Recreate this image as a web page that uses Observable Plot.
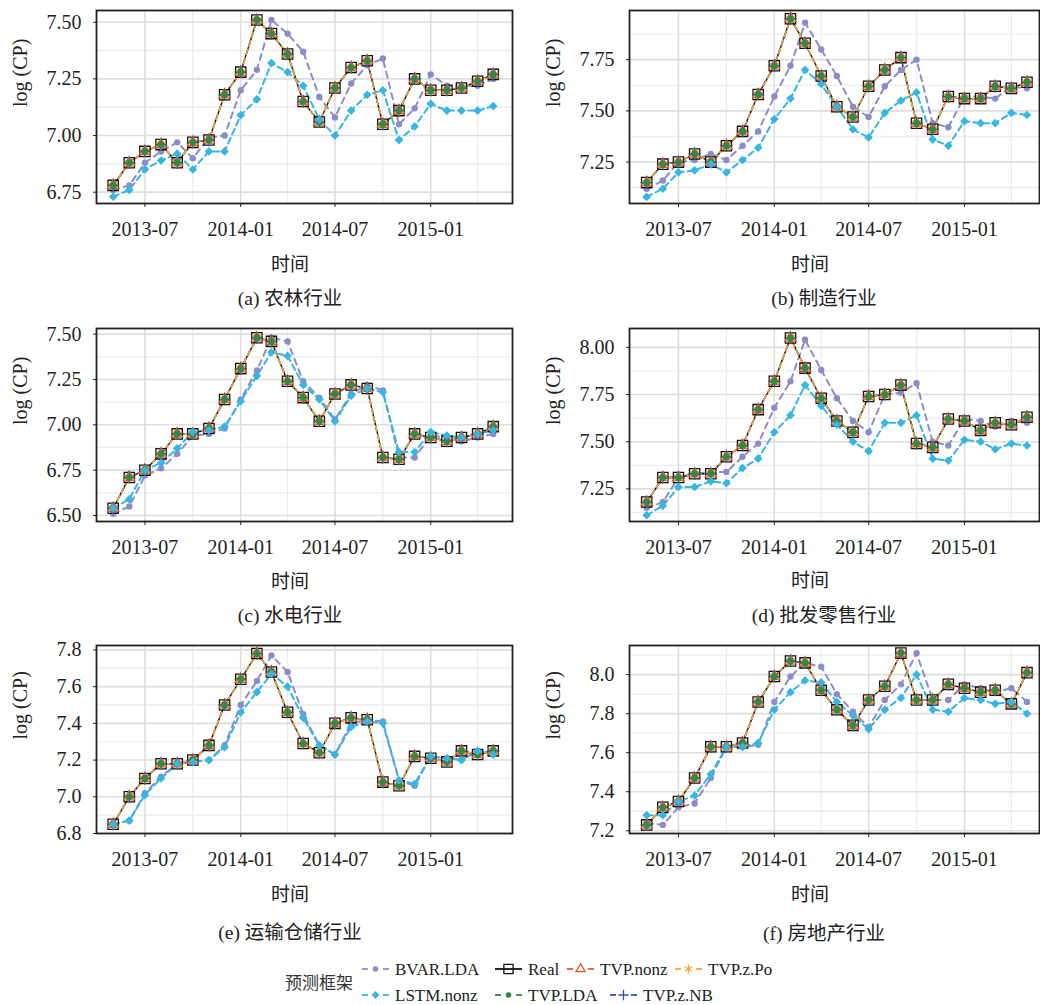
<!DOCTYPE html>
<html>
<head>
<meta charset="utf-8">
<script src="https://cdn.jsdelivr.net/npm/d3@7"></script>
<script src="https://cdn.jsdelivr.net/npm/@observablehq/plot@0.6"></script>
<style>
  body { margin: 0; background: #fff; }
  #fig { position: relative; width: 1040px; height: 1005px; overflow: hidden;
         font-family: "Liberation Serif", "Noto Sans CJK SC", serif; color: #222; }
  .panel { position: absolute; }
  .lbl { position: absolute; transform: translate(-50%, -50%); white-space: nowrap; font-size: 19px; }
  #legend { position: absolute; left: 0; top: 950px; }
</style>
</head>
<body>
<div id="fig"></div>
<script>
// Monthly observations, May 2013 – May 2015
const months = ["2013-05","2013-06","2013-07","2013-08","2013-09","2013-10","2013-11","2013-12",
  "2014-01","2014-02","2014-03","2014-04","2014-05","2014-06","2014-07","2014-08","2014-09","2014-10",
  "2014-11","2014-12","2015-01","2015-02","2015-03","2015-04","2015-05"];
const xTickMonths = ["2013-07","2014-01","2014-07","2015-01"];
const xMinorMonths = ["2013-10","2014-04","2014-10","2015-04"];

const panelTitles = ["(a) 农林行业","(b) 制造行业","(c) 水电行业","(d) 批发零售行业","(e) 运输仓储行业","(f) 房地产行业"];
const xTitle = "时间";
const yTitle = "log (CP)";
const legendTitle = "预测框架";
const seriesNames = ["BVAR.LDA","Real","TVP.nonz","TVP.z.Po","LSTM.nonz","TVP.LDA","TVP.z.NB"];

// (a) 农林行业
const realA = [6.78,6.88,6.93,6.96,6.88,6.97,6.98,7.18,7.28,7.51,7.45,7.36,7.15,7.06,7.21,7.30,7.33,7.05,7.11,7.25,7.20,7.20,7.21,7.24,7.27];
const bvarA = [6.76,6.78,6.88,6.93,6.97,6.90,6.99,7.00,7.20,7.29,7.51,7.45,7.37,7.17,7.08,7.23,7.31,7.34,7.05,7.12,7.27,7.22,7.22,7.22,7.25];
const lstmA = [6.73,6.76,6.85,6.89,6.92,6.85,6.93,6.93,7.09,7.16,7.32,7.28,7.22,7.07,7.00,7.11,7.18,7.20,6.98,7.04,7.14,7.11,7.11,7.11,7.13];
// (b) 制造行业
const realB = [7.15,7.24,7.25,7.29,7.25,7.33,7.40,7.58,7.72,7.95,7.83,7.67,7.52,7.47,7.62,7.70,7.76,7.44,7.41,7.57,7.56,7.56,7.62,7.61,7.64];
const bvarB = [7.12,7.16,7.25,7.26,7.29,7.26,7.33,7.40,7.57,7.72,7.93,7.80,7.67,7.52,7.47,7.62,7.70,7.75,7.44,7.42,7.57,7.57,7.56,7.62,7.61];
const lstmB = [7.08,7.12,7.20,7.21,7.24,7.20,7.26,7.32,7.46,7.56,7.70,7.63,7.52,7.41,7.37,7.49,7.55,7.59,7.36,7.33,7.45,7.44,7.44,7.49,7.48];
// (c) 水电行业
const realC = [6.54,6.71,6.75,6.84,6.95,6.95,6.98,7.14,7.31,7.48,7.46,7.24,7.15,7.02,7.17,7.22,7.20,6.82,6.81,6.95,6.93,6.91,6.93,6.95,6.99];
const bvarC = [6.51,6.55,6.72,6.76,6.84,6.94,6.95,6.98,7.14,7.30,7.48,7.46,7.24,7.15,7.03,7.17,7.22,7.19,6.82,6.82,6.94,6.93,6.91,6.93,6.95];
const lstmC = [6.54,6.59,6.75,6.79,6.87,6.96,6.97,6.99,7.13,7.27,7.40,7.38,7.22,7.14,7.02,7.16,7.20,7.18,6.85,6.85,6.96,6.94,6.93,6.95,6.97];
// (d) 批发零售行业
const realD = [7.18,7.31,7.31,7.33,7.33,7.42,7.48,7.67,7.82,8.05,7.89,7.73,7.61,7.55,7.74,7.75,7.80,7.49,7.47,7.62,7.61,7.56,7.60,7.59,7.63];
const bvarD = [7.15,7.18,7.31,7.33,7.34,7.34,7.42,7.49,7.68,7.82,8.04,7.88,7.73,7.61,7.55,7.75,7.76,7.81,7.50,7.48,7.62,7.61,7.58,7.61,7.60];
const lstmD = [7.11,7.16,7.26,7.26,7.29,7.28,7.36,7.41,7.55,7.64,7.80,7.69,7.59,7.50,7.45,7.60,7.60,7.64,7.41,7.40,7.51,7.50,7.46,7.49,7.48];
// (e) 运输仓储行业
const realE = [6.85,7.00,7.10,7.18,7.18,7.20,7.28,7.50,7.64,7.78,7.68,7.46,7.29,7.24,7.40,7.43,7.42,7.08,7.06,7.22,7.21,7.19,7.25,7.23,7.25];
const bvarE = [6.85,6.87,7.02,7.11,7.18,7.19,7.20,7.28,7.50,7.63,7.77,7.68,7.45,7.28,7.23,7.40,7.42,7.41,7.09,7.06,7.22,7.21,7.20,7.25,7.24];
const lstmE = [6.85,6.87,7.01,7.10,7.18,7.19,7.20,7.27,7.46,7.57,7.67,7.60,7.43,7.28,7.23,7.38,7.41,7.40,7.09,7.07,7.22,7.21,7.20,7.25,7.23];
// (f) 房地产行业
const realF = [7.23,7.32,7.35,7.47,7.63,7.63,7.65,7.86,7.99,8.07,8.06,7.92,7.82,7.74,7.87,7.94,8.11,7.87,7.87,7.95,7.93,7.91,7.92,7.85,8.01];
const bvarF = [7.24,7.23,7.32,7.34,7.47,7.63,7.63,7.64,7.86,7.99,8.06,8.04,7.90,7.81,7.73,7.87,7.95,8.11,7.87,7.87,7.95,7.93,7.91,7.93,7.86];
const lstmF = [7.28,7.28,7.35,7.38,7.49,7.63,7.63,7.65,7.82,7.91,7.97,7.96,7.86,7.79,7.72,7.82,7.88,8.00,7.82,7.81,7.88,7.87,7.85,7.86,7.80];

// y-axis ticks (labelled) and the half-step grid lines between them
const yTicksA = [6.75,7.00,7.25,7.50], yMinorA = [6.875,7.125,7.375];
const yTicksB = [7.25,7.50,7.75],      yMinorB = [7.125,7.375,7.625,7.875];
const yTicksC = [6.50,6.75,7.00,7.25,7.50], yMinorC = [6.625,6.875,7.125,7.375];
const yTicksD = [7.25,7.50,7.75,8.00], yMinorD = [7.125,7.375,7.625,7.875];
const yTicksE = [6.8,7.0,7.2,7.4,7.6,7.8], yMinorE = [6.9,7.1,7.3,7.5,7.7];
const yTicksF = [7.2,7.4,7.6,7.8,8.0], yMinorF = [7.3,7.5,7.7,7.9,8.1];

// The four TVP forecasts track the observed series to two decimals, so they share its values.
const panelData = [
  {real: realA, bvar: bvarA, lstm: lstmA, yDomain: [6.70, 7.552], yTicks: yTicksA, yMinor: yMinorA, fmt: ".2f"},
  {real: realB, bvar: bvarB, lstm: lstmB, yDomain: [7.048, 7.99], yTicks: yTicksB, yMinor: yMinorB, fmt: ".2f"},
  {real: realC, bvar: bvarC, lstm: lstmC, yDomain: [6.467, 7.531], yTicks: yTicksC, yMinor: yMinorC, fmt: ".2f"},
  {real: realD, bvar: bvarD, lstm: lstmD, yDomain: [7.077, 8.10], yTicks: yTicksD, yMinor: yMinorD, fmt: ".2f"},
  {real: realE, bvar: bvarE, lstm: lstmE, yDomain: [6.80, 7.824], yTicks: yTicksE, yMinor: yMinorE, fmt: ".1f"},
  {real: realF, bvar: bvarF, lstm: lstmF, yDomain: [7.186, 8.149], yTicks: yTicksF, yMinor: yMinorF, fmt: ".1f"}
];

// ---- layout ----
const panelLayout = [
  {left: 0,   top: 0,   col: 0, plotH: 193, xLbl: [290, 262], cap: [290, 296]},
  {left: 520, top: 0,   col: 1, plotH: 193, xLbl: [810, 262], cap: [824, 296]},
  {left: 0,   top: 318, col: 0, plotH: 193, xLbl: [290, 579], cap: [290, 613]},
  {left: 520, top: 318, col: 1, plotH: 193, xLbl: [810, 578], cap: [824, 613]},
  {left: 0,   top: 635, col: 0, plotH: 188, xLbl: [290, 892], cap: [290, 930]},
  {left: 520, top: 635, col: 1, plotH: 188, xLbl: [810, 892], cap: [824, 931]}
];
const colLayout = [
  {marginLeft: 96,  marginRight: 8, xDomain: ["2013-03-30", "2015-06-07"]},
  {marginLeft: 109, marginRight: 1, xDomain: ["2013-03-29", "2015-05-25"]}
];

const styles = {
  "BVAR.LDA":  {color: "#8d8ccb", dash: "6,5", width: 2,   symbol: "circle",    r: 3.2, filled: true},
  "LSTM.nonz": {color: "#35b6e3", dash: "6,4", width: 2,   symbol: "diamond2",  r: 3.9, filled: true},
  "Real":      {color: "#111111", dash: null,  width: 1.4, symbol: "square",    r: 5.8, filled: false},
  "TVP.nonz":  {color: "#e4572e", dash: "5,4", width: 1.4, symbol: "triangle2", r: 5.2, filled: false},
  "TVP.z.Po":  {color: "#f5a43a", dash: "5,4", width: 1.6, symbol: "asterisk",  r: 5.0, filled: false},
  "TVP.LDA":   {color: "#2e8b3f", dash: "5,4", width: 1.4, symbol: "circle",    r: 3.4, filled: true},
  "TVP.z.NB":  {color: "#3356a8", dash: "5,4", width: 1.4, symbol: "plus",      r: 4.0, filled: false}
};
const lineOrder = ["BVAR.LDA","LSTM.nonz","Real","TVP.nonz","TVP.LDA","TVP.z.NB","TVP.z.Po"];
const dotOrder  = ["BVAR.LDA","Real","TVP.nonz","TVP.z.Po","TVP.z.NB","TVP.LDA","LSTM.nonz"];

const parseMonth = d3.utcParse("%Y-%m");
const parseDay = d3.utcParse("%Y-%m-%d");
const dates = months.map(parseMonth);
const fontStack = "'Liberation Serif', 'Noto Sans CJK SC', serif";

function rowsOf(values) {
  return dates.map((date, i) => ({date, value: values[i]}));
}

function makePanel(pd, pl) {
  const cl = colLayout[pl.col];
  const seriesValues = {
    "BVAR.LDA": pd.bvar, "LSTM.nonz": pd.lstm, "Real": pd.real,
    "TVP.nonz": pd.real, "TVP.z.Po": pd.real, "TVP.LDA": pd.real, "TVP.z.NB": pd.real
  };
  const lines = lineOrder.map(name => {
    const s = styles[name];
    return Plot.line(rowsOf(seriesValues[name]), {
      x: "date", y: "value", stroke: s.color, strokeWidth: s.width,
      strokeDasharray: s.dash || undefined, curve: "linear"
    });
  });
  const dots = dotOrder.map(name => {
    const s = styles[name];
    return Plot.dot(rowsOf(seriesValues[name]), {
      x: "date", y: "value", symbol: s.symbol, r: s.r,
      fill: s.filled ? s.color : "none",
      stroke: s.filled ? "none" : s.color,
      strokeWidth: s.filled ? 0 : 1.3
    });
  });
  return Plot.plot({
    width: 520,
    height: pl.plotH + 50,
    marginLeft: cl.marginLeft,
    marginRight: cl.marginRight,
    marginTop: 10,
    marginBottom: 40,
    style: {fontFamily: fontStack, fontSize: "20px", color: "#222", background: "transparent", overflow: "visible"},
    x: {type: "utc", domain: cl.xDomain.map(parseDay), ticks: xTickMonths.map(parseMonth),
        tickFormat: d3.utcFormat("%Y-%m"), tickSize: 4, tickPadding: 14, label: null},
    y: {domain: pd.yDomain, ticks: pd.yTicks, tickFormat: d3.format(pd.fmt), tickSize: 3, tickPadding: 12, label: null},
    marks: [
      Plot.gridY(pd.yMinor, {stroke: "#ececec", strokeOpacity: 1, strokeWidth: 1.3}),
      Plot.gridX(xMinorMonths.map(parseMonth), {stroke: "#ececec", strokeOpacity: 1, strokeWidth: 1.3}),
      Plot.gridY(pd.yTicks, {stroke: "#dedede", strokeOpacity: 1, strokeWidth: 1.6}),
      Plot.gridX(xTickMonths.map(parseMonth), {stroke: "#dedede", strokeOpacity: 1, strokeWidth: 1.6}),
      ...lines,
      ...dots,
      Plot.frame({stroke: "#222", strokeWidth: 1.8}),
      Plot.text([yTitle], {text: d => d, frameAnchor: "left", dx: -76, rotate: -90,
                           fontSize: 20, fill: "#222"})
    ]
  });
}

const fig = document.getElementById("fig");
panelData.forEach((pd, i) => {
  const pl = panelLayout[i];
  const wrap = document.createElement("div");
  wrap.className = "panel";
  wrap.style.left = pl.left + "px";
  wrap.style.top = pl.top + "px";
  wrap.appendChild(makePanel(pd, pl));
  fig.appendChild(wrap);

  const xl = document.createElement("div");
  xl.className = "lbl";
  xl.textContent = xTitle;
  xl.style.left = pl.xLbl[0] + "px";
  xl.style.top = pl.xLbl[1] + "px";
  fig.appendChild(xl);

  const cap = document.createElement("div");
  cap.className = "lbl";
  cap.style.fontSize = "19.5px";
  cap.textContent = panelTitles[i];
  cap.style.left = pl.cap[0] + "px";
  cap.style.top = pl.cap[1] + "px";
  fig.appendChild(cap);
});

// ---- legend ----
const legendPos = {
  "BVAR.LDA":  [362, 19], "Real":     [495, 19], "TVP.nonz": [567, 19], "TVP.z.Po": [675, 19],
  "LSTM.nonz": [362, 45], "TVP.LDA":  [495, 45], "TVP.z.NB": [610, 45]
};
const legendSymbolR = {
  "BVAR.LDA": 2.8, "LSTM.nonz": 3.6, "Real": 5.2, "TVP.nonz": 4.4,
  "TVP.z.Po": 4.2, "TVP.LDA": 2.8, "TVP.z.NB": 3.4
};
const symbolTypes = {
  circle: d3.symbolCircle, diamond2: d3.symbolDiamond2, square: d3.symbolSquare,
  triangle2: d3.symbolTriangle2, asterisk: d3.symbolAsterisk, plus: d3.symbolPlus
};
const legend = d3.select(fig).append("svg")
  .attr("id", "legend").attr("width", 1040).attr("height", 55)
  .style("font-family", fontStack);
legend.append("text").attr("x", 285).attr("y", 33).attr("dy", "0.35em")
  .attr("font-size", 17).attr("fill", "#333")
  .style("font-family", "'Noto Sans CJK SC', sans-serif").text(legendTitle);
seriesNames.forEach(name => {
  const s = styles[name];
  const [x0, y] = legendPos[name];
  const r = legendSymbolR[name];
  const g = legend.append("g");
  if (s.dash) {
    [[x0, x0 + 6], [x0 + 21, x0 + 27]].forEach(([a, b]) =>
      g.append("line").attr("x1", a).attr("x2", b).attr("y1", y).attr("y2", y)
        .attr("stroke", s.color).attr("stroke-width", 1.8));
  } else {
    g.append("line").attr("x1", x0).attr("x2", x0 + 27).attr("y1", y).attr("y2", y)
      .attr("stroke", s.color).attr("stroke-width", 1.8);
  }
  g.append("path")
    .attr("transform", `translate(${x0 + 13.5},${y})`)
    .attr("d", d3.symbol(symbolTypes[s.symbol], Math.PI * r * r)())
    .attr("fill", s.filled ? s.color : "none")
    .attr("stroke", s.filled ? "none" : s.color)
    .attr("stroke-width", 1.3);
  g.append("text").attr("x", x0 + 33).attr("y", y).attr("dy", "0.35em")
    .attr("font-size", 17).attr("fill", "#222").text(name);
});
</script>
</body>
</html>
